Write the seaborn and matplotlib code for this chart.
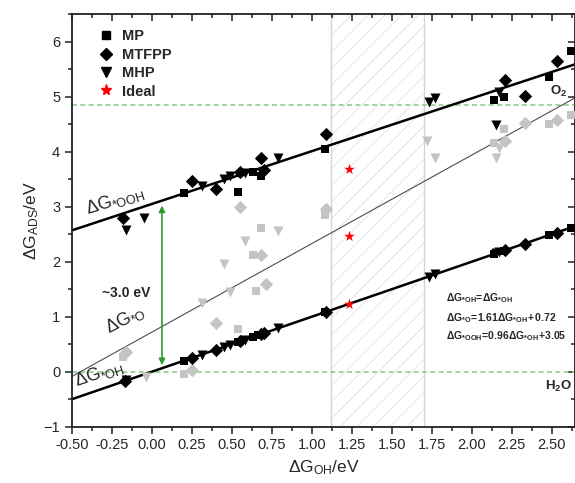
import numpy as np
import pandas as pd
import matplotlib
matplotlib.use("Agg")
import matplotlib.pyplot as plt
import seaborn as sns
from matplotlib.lines import Line2D
from matplotlib.ticker import MultipleLocator, FormatStrFormatter

# Values (x = dG_OH, y = dG of the adsorbate)
# MP (squares)
mp_oh_x = [0.20, 0.54, 0.63, 0.66, 1.08, 2.14, 2.20, 2.48, 2.62]
mp_ooh_x = [0.20, 0.54, 0.63, 0.68, 1.08, 2.14, 2.20, 2.48, 2.62]
mp_ooh_y = [3.25, 3.27, 3.63, 3.56, 4.04, 4.94, 5.00, 5.36, 5.83]
mp_o_x = [-0.18, 0.20, 0.54, 0.65, 0.63, 0.68, 1.08, 2.14, 2.20, 2.48, 2.62]
mp_o_y = [0.26, -0.05, 0.78, 1.47, 2.13, 2.61, 2.85, 4.15, 4.41, 4.50, 4.67]

# MTFPP (diamonds)
mtfpp_oh_x = [-0.17, 0.25, 0.40, 0.55, 0.68, 0.70, 1.09, 2.21, 2.33, 2.53]
mtfpp_ooh_x = [-0.18, 0.25, 0.40, 0.55, 0.68, 0.70, 1.09, 2.21, 2.33, 2.53]
mtfpp_ooh_y = [2.79, 3.47, 3.33, 3.63, 3.88, 3.67, 4.32, 5.30, 5.02, 5.64]
mtfpp_o_x = [-0.16, 0.25, 0.40, 0.55, 0.68, 0.71, 1.09, 2.21, 2.33, 2.53]
mtfpp_o_y = [0.36, 0.03, 0.89, 3.00, 2.13, 1.59, 2.95, 4.20, 4.52, 4.58]

# MHP (down triangles)
mhp_oh_x = [-0.16, 0.31, 0.45, 0.49, 0.58, 0.79, 1.73, 1.77, 2.15, 2.17]
mhp_ooh_x = [-0.16, -0.05, 0.31, 0.45, 0.49, 0.58, 0.79, 1.73, 1.77, 2.17, 2.15]
mhp_ooh_y = [2.58, 2.79, 3.38, 3.50, 3.56, 3.62, 3.88, 4.91, 4.97, 5.09, 4.49]
mhp_o_x = [-0.04, 0.31, 0.45, 0.49, 0.58, 0.79, 1.72, 1.77, 2.17, 2.15]
mhp_o_y = [-0.09, 1.25, 1.95, 1.45, 2.38, 2.56, 4.19, 3.88, 4.07, 3.88]

# ideal catalyst
ideal_x = [1.23, 1.23, 1.23]
ideal_y = [1.23, 2.46, 3.69]

# scaling relations (slope, intercept)
fit_oh = (1.00, 0.00)
fit_o = (1.61, 0.72)
fit_ooh = (0.96, 3.05)

x_range = [-0.5, 2.65]
hatch_span = (1.12, 1.70)
o2_level = 4.85
h2o_level = 0.0

# Build one long table for seaborn
rows = []
fams = {
    "MP": (mp_oh_x, mp_ooh_x, mp_ooh_y, mp_o_x, mp_o_y),
    "MTFPP": (mtfpp_oh_x, mtfpp_ooh_x, mtfpp_ooh_y, mtfpp_o_x, mtfpp_o_y),
    "MHP": (mhp_oh_x, mhp_ooh_x, mhp_ooh_y, mhp_o_x, mhp_o_y),
}
for fam, (ohx, oohx, oohy, ox, oy) in fams.items():
    for x in ohx:
        rows.append((fam, "OH", x, x))
    for x, y in zip(oohx, oohy):
        rows.append((fam, "OOH", x, y))
    for x, y in zip(ox, oy):
        rows.append((fam, "O", x, y))
df = pd.DataFrame(rows, columns=["family", "species", "x", "y"])

sns.set_style("ticks")
plt.rcParams["font.family"] = ["Liberation Sans", "DejaVu Sans"]
plt.rcParams["mathtext.fontset"] = "custom"
plt.rcParams["mathtext.rm"] = "Liberation Sans"
plt.rcParams["mathtext.it"] = "Liberation Sans"  # upright, like the original
plt.rcParams["mathtext.bf"] = "Liberation Sans:bold"
plt.rcParams["hatch.linewidth"] = 0.6

fig = plt.figure(figsize=(5.75, 4.83), dpi=100)
ax = fig.add_axes([0.1252, 0.1166, 0.8748, 0.854])

# window of ideal dG_OH
ax.axvspan(*hatch_span, facecolor="none", edgecolor="#e0e0e0", hatch="//", lw=0, zorder=0)
ax.axvline(hatch_span[0], color="#d4d4d4", lw=1, zorder=0)
ax.axvline(hatch_span[1], color="#d4d4d4", lw=1, zorder=0)

# O2 / H2O levels
ax.axhline(o2_level, color="#8ccf8c", lw=1.2, ls=(0, (3, 2)), zorder=1)
ax.axhline(h2o_level, color="#8ccf8c", lw=1.2, ls=(0, (3, 2)), zorder=1)

# scaling lines
xs = np.array(x_range)
lines = pd.DataFrame({
    "x": np.concatenate([xs, xs, xs]),
    "y": np.concatenate([fit_oh[0] * xs + fit_oh[1], fit_o[0] * xs + fit_o[1], fit_ooh[0] * xs + fit_ooh[1]]),
    "fit": ["OH"] * 2 + ["O"] * 2 + ["OOH"] * 2,
})
sns.lineplot(data=lines[lines.fit != "O"], x="x", y="y", units="fit", estimator=None,
             color="black", lw=1.8, ax=ax, zorder=2)
sns.lineplot(data=lines[lines.fit == "O"], x="x", y="y", color="#4d4d4d", lw=0.8, ax=ax, zorder=2)

markers = {"MP": "s", "MTFPP": "D", "MHP": "v"}
sizes = {"MP": 36, "MTFPP": 46, "MHP": 52}
for fam in ["MP", "MTFPP", "MHP"]:
    sub = df[df.family == fam]
    sns.scatterplot(data=sub[sub.species == "O"], x="x", y="y", marker=markers[fam],
                    color="#c4c4c4", s=sizes[fam], linewidth=0, ax=ax, zorder=3)
    sns.scatterplot(data=sub[sub.species != "O"], x="x", y="y", marker=markers[fam],
                    color="black", s=sizes[fam], linewidth=0, ax=ax, zorder=4)

sns.scatterplot(x=ideal_x, y=ideal_y, marker="*", color="red", s=65, linewidth=0, ax=ax, zorder=5)

# ~3 eV arrow
ax.annotate("", xy=(0.0625, 3.02), xytext=(0.0625, 0.12),
            arrowprops=dict(arrowstyle="<|-|>", color="#2e9a2e", lw=1.2,
                            shrinkA=0, shrinkB=0, mutation_scale=9))
ax.text(-0.16, 1.43, "~3.0 eV", fontsize=10, fontweight="bold", ha="center", va="center")

ax.text(-0.23, 3.12, r"$\Delta G_{*OOH}$", fontsize=13, rotation=17, ha="center", va="center")
ax.text(-0.17, 0.95, r"$\Delta G_{*O}$", fontsize=13, rotation=27, ha="center", va="center")
ax.text(-0.33, -0.03, r"$\Delta G_{*OH}$", fontsize=13, rotation=18, ha="center", va="center")

ax.text(1.84, 1.34, r"$\mathbf{\Delta G_{*OH}\!=\!\Delta G_{*OH}}$", fontsize=7.5, va="center")
ax.text(1.84, 0.97, r"$\mathbf{\Delta G_{*O}\!=\!1.61\Delta G_{*OH}\!+ 0.72}$", fontsize=7.5, va="center")
ax.text(1.84, 0.64, r"$\mathbf{\Delta G_{*OOH}\!=\!0.96\Delta G_{*OH}\!+\!3.05}$", fontsize=7.5, va="center")

ax.text(2.49, 5.09, r"$\mathbf{O_2}$", fontsize=9.5, va="center")
ax.text(2.455, -0.27, r"$\mathbf{H_2O}$", fontsize=9.5, va="center")

handles = [
    Line2D([], [], marker="s", color="black", ls="", markersize=6, label="MP"),
    Line2D([], [], marker="D", color="black", ls="", markersize=6, label="MTFPP"),
    Line2D([], [], marker="v", color="black", ls="", markersize=7, label="MHP"),
    Line2D([], [], marker="*", color="red", ls="", markersize=8, label="Ideal"),
]
leg = ax.legend(handles=handles, loc="upper left", bbox_to_anchor=(0.025, 0.995), frameon=False,
                prop={"weight": "bold", "size": 10.5}, handletextpad=0.5, labelspacing=0.3,
                handlelength=1.2)

ax.set_xlim(-0.5, 2.645)
ax.set_ylim(-1, 6.5)
ax.xaxis.set_major_locator(MultipleLocator(0.25))
ax.xaxis.set_minor_locator(MultipleLocator(0.125))
ax.xaxis.set_major_formatter(FormatStrFormatter("%.2f"))
ax.yaxis.set_major_locator(MultipleLocator(1))
ax.yaxis.set_minor_locator(MultipleLocator(0.5))
ax.tick_params(which="both", top=True, right=True, labelsize=10.5, width=1.1, color="#222222")
ax.tick_params(which="major", length=5)
ax.tick_params(which="minor", length=3)
for side in ["left", "right", "top", "bottom"]:
    ax.spines[side].set_visible(True)
    ax.spines[side].set_linewidth(1.3)
    ax.spines[side].set_color("#222222")
# top / right ticks point inward, bottom / left outward
for t in ax.xaxis.get_major_ticks() + ax.xaxis.get_minor_ticks():
    t.tick2line.set_marker(matplotlib.lines.TICKDOWN)
for t in ax.yaxis.get_major_ticks() + ax.yaxis.get_minor_ticks():
    t.tick2line.set_marker(matplotlib.lines.TICKLEFT)

ax.set_xlabel(r"$\Delta G_{OH}$/eV", fontsize=12.5, labelpad=4)
ax.set_ylabel(r"$\Delta G_{ADS}$/eV", fontsize=12.5, labelpad=2)

fig.savefig("out.png", dpi=100)
